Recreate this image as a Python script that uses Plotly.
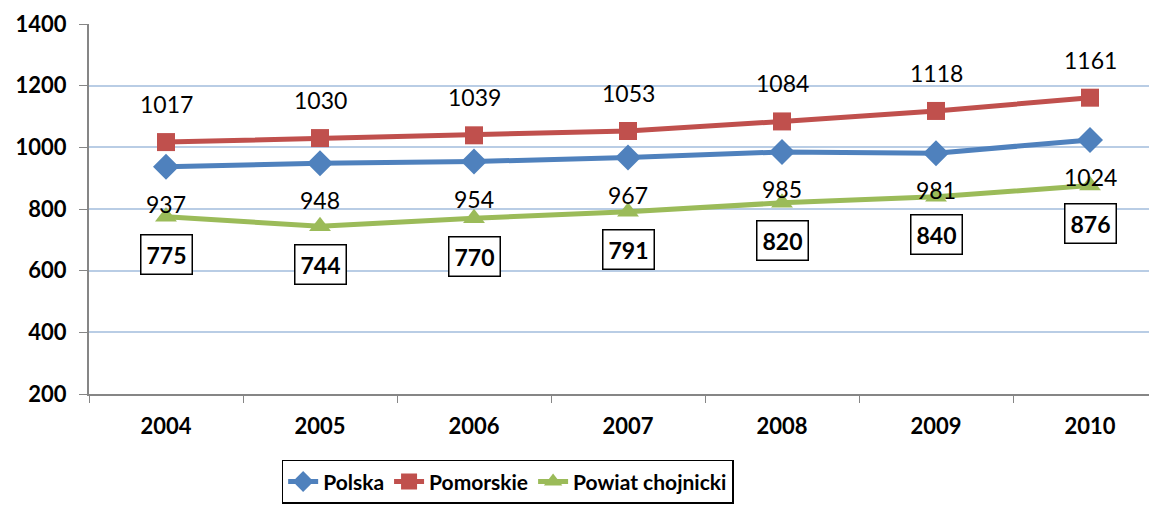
import plotly.graph_objects as go

years = ["2004", "2005", "2006", "2007", "2008", "2009", "2010"]
polska = [937, 948, 954, 967, 985, 981, 1024]
pomorskie = [1017, 1030, 1039, 1053, 1084, 1118, 1161]
powiat = [775, 744, 770, 791, 820, 840, 876]

BLUE = "#4F81BD"
RED = "#C0504D"
GREEN = "#9BBB59"
FONT = "Lato, 'Open Sans', sans-serif"

fig = go.Figure()
fig.add_trace(go.Scatter(x=years, y=polska, name="Polska", mode="lines+markers",
                         line=dict(color=BLUE, width=5),
                         marker=dict(symbol="diamond", size=20, color=BLUE)))
fig.add_trace(go.Scatter(x=years, y=pomorskie, name="Pomorskie", mode="lines+markers",
                         line=dict(color=RED, width=5),
                         marker=dict(symbol="square", size=18, color=RED)))
fig.add_trace(go.Scatter(x=years, y=powiat, name="Powiat chojnicki", mode="lines+markers",
                         line=dict(color=GREEN, width=5),
                         marker=dict(symbol="triangle-up", size=19, color=GREEN)))

# data labels (category axis: x given as category index)
for i, v in enumerate(polska):
    fig.add_annotation(x=i, y=v, text=str(v), showarrow=False, yshift=-37,
                       font=dict(size=23, color="black", family=FONT))
for i, v in enumerate(pomorskie):
    fig.add_annotation(x=i, y=v, text=str(v), showarrow=False, yshift=38,
                       font=dict(size=23, color="black", family=FONT))
for i, v in enumerate(powiat):
    fig.add_annotation(x=i, y=v, text="<b>%d</b>" % v, showarrow=False, yshift=-38,
                       font=dict(size=23, color="black", family=FONT),
                       bgcolor="white", bordercolor="black", borderwidth=1.5, borderpad=5)

fig.update_layout(
    width=1149, height=498,
    margin=dict(l=81, r=0, t=16, b=112),
    paper_bgcolor="white", plot_bgcolor="white",
    font=dict(family=FONT, color="black"),
    legend=dict(orientation="h", x=0.392, xanchor="center", y=-0.178, yanchor="top",
                bgcolor="white", bordercolor="black", borderwidth=1.5,
                font=dict(size=21, family=FONT, weight="bold"),
                tracegroupgap=10),
    showlegend=True,
)
fig.update_xaxes(type="category", range=[-0.5, 6.435], tickson="boundaries",
                 ticks="outside", ticklen=7, tickcolor="#868686",
                 showline=True, linecolor="#868686", linewidth=2,
                 showgrid=False, ticklabelstandoff=12,
                 tickfont=dict(size=22, family=FONT, weight="bold"))
fig.update_yaxes(range=[200, 1400], dtick=200, ticks="outside", ticklen=8,
                 tickcolor="#868686", showline=True, linecolor="#868686", linewidth=2,
                 showgrid=True, gridcolor="#B9CDE5", gridwidth=1.5,
                 zeroline=False, ticklabelstandoff=8,
                 tickfont=dict(size=22, family=FONT, weight="bold"))

fig.write_html("out.html")
